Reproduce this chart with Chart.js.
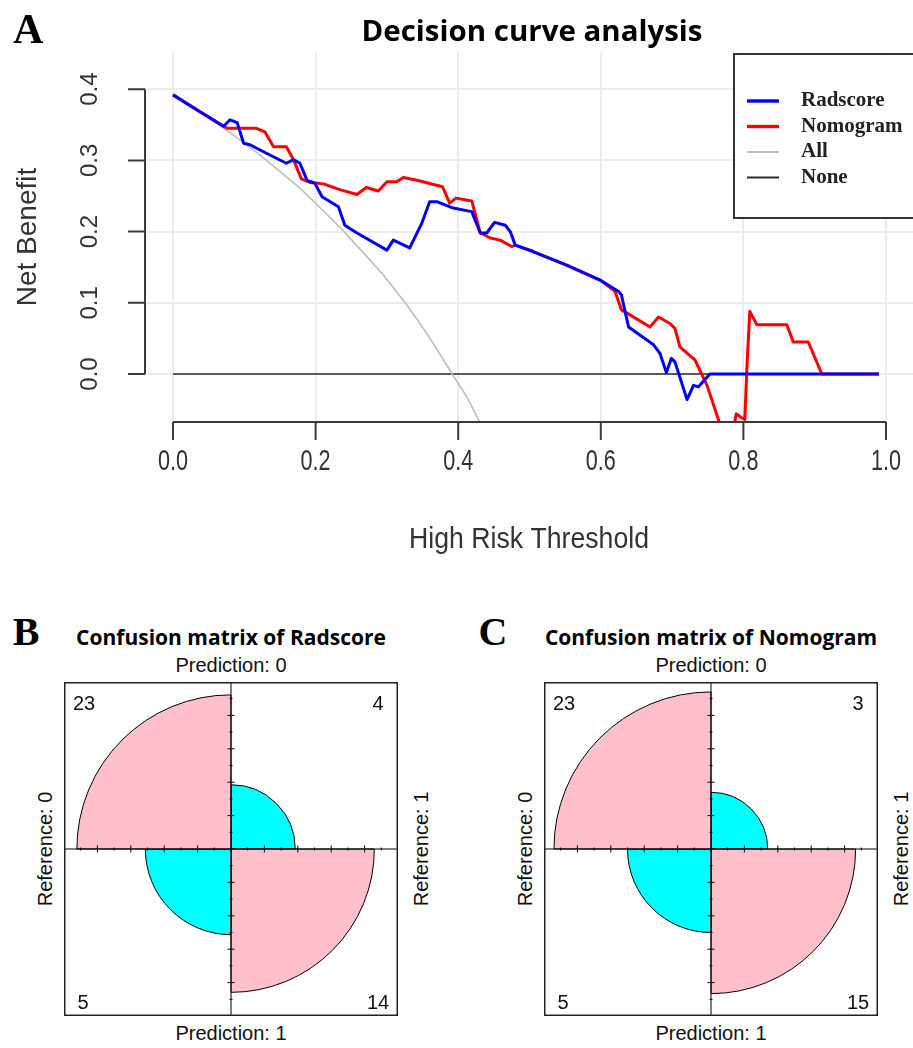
<!DOCTYPE html>
<html>
<head>
<meta charset="utf-8">
<title>Decision curve analysis and confusion matrices</title>
<script src="https://cdn.jsdelivr.net/npm/chart.js@4.4.1/dist/chart.umd.min.js"></script>
<style>
  html, body { margin: 0; padding: 0; background: #fff; }
  body { position: relative; width: 913px; height: 1048px; overflow: hidden; font-family: "Liberation Sans", Arial, sans-serif; color: #000; }
  #dcaChart { position: absolute; left: 0; top: 0; }
  .cm-canvas { position: absolute; top: 682px; }
  .txt { position: absolute; white-space: nowrap; line-height: 1; transform: translate(-50%, -50%); }
  .txt.rot { transform: translate(-50%, -50%) rotate(-90deg); }
  .panel { font-family: "Liberation Serif", "Times New Roman", serif; font-weight: bold; font-size: 40px; }
  .cm-title { font-family: "Open Sans", sans-serif; font-weight: bold; font-size: 21px; }
  .axis-lbl, .count { font-size: 20px; color: #111; }
</style>
</head>
<body>
<canvas id="dcaChart" width="913" height="580"></canvas>
<canvas id="cmRad" class="cm-canvas" width="334" height="334" style="left:64px"></canvas>
<canvas id="cmNomo" class="cm-canvas" width="334" height="334" style="left:544px"></canvas>
<div id="labels"></div>
<script>
// ---- decision curve data ----
const thresholdTicks = [0, 0.2, 0.4, 0.6, 0.8, 1.0];
const benefitTicks = [0, 0.1, 0.2, 0.3, 0.4];

const radscoreX = [0, 0.035, 0.071, 0.080, 0.090, 0.099, 0.108, 0.131, 0.159, 0.169, 0.178, 0.188, 0.199, 0.209,
  0.232, 0.241, 0.258, 0.300, 0.309, 0.332, 0.349, 0.360, 0.370, 0.393, 0.419, 0.431, 0.440, 0.451, 0.466,
  0.473, 0.480, 0.505, 0.552, 0.599, 0.625, 0.629, 0.634, 0.639, 0.674, 0.683, 0.692, 0.699, 0.704, 0.721,
  0.730, 0.737, 0.753, 0.990];
const radscoreY = [0.392, 0.370, 0.348, 0.357, 0.353, 0.324, 0.322, 0.310, 0.296, 0.301, 0.296, 0.272, 0.268, 0.249,
  0.235, 0.209, 0.198, 0.174, 0.188, 0.177, 0.212, 0.242, 0.242, 0.233, 0.228, 0.198, 0.198, 0.213, 0.209,
  0.200, 0.181, 0.172, 0.153, 0.132, 0.116, 0.111, 0.088, 0.066, 0.041, 0.029, 0.002, 0.022, 0.017, -0.036,
  -0.016, -0.018, 0.000, 0.000];

const nomogramX = [0, 0.035, 0.071, 0.076, 0.117, 0.129, 0.141, 0.159, 0.169, 0.180, 0.192, 0.211, 0.234, 0.258,
  0.271, 0.288, 0.300, 0.314, 0.323, 0.342, 0.378, 0.388, 0.397, 0.419, 0.431, 0.445, 0.459, 0.475, 0.480,
  0.505, 0.552, 0.599, 0.620, 0.629, 0.641, 0.669, 0.681, 0.697, 0.704, 0.711, 0.727, 0.732, 0.749, 0.766,
  0.772, 0.785, 0.788, 0.790, 0.797, 0.802, 0.805, 0.809, 0.819, 0.861, 0.870, 0.891, 0.910, 0.990];
const nomogramY = [0.392, 0.370, 0.348, 0.345, 0.345, 0.340, 0.319, 0.319, 0.301, 0.274, 0.269, 0.267, 0.259, 0.252,
  0.262, 0.257, 0.270, 0.270, 0.276, 0.272, 0.263, 0.240, 0.247, 0.243, 0.198, 0.191, 0.188, 0.179, 0.181,
  0.172, 0.153, 0.132, 0.116, 0.090, 0.083, 0.066, 0.080, 0.071, 0.064, 0.038, 0.024, 0.020, -0.016, -0.067,
  -0.090, -0.090, -0.067, -0.056, -0.061, -0.064, 0.010, 0.088, 0.069, 0.069, 0.045, 0.045, 0.000, 0.000];

const allX = [0, 0.040, 0.080, 0.120, 0.141, 0.178, 0.210, 0.239, 0.270, 0.295, 0.328, 0.356, 0.375, 0.391, 0.412, 0.429, 0.440];
const allY = [0.392, 0.366, 0.339, 0.309, 0.292, 0.261, 0.230, 0.201, 0.167, 0.139, 0.097, 0.057, 0.027, 0.001, -0.032, -0.065, -0.085];

const noneX = [0, 0.990];
const noneY = [0, 0];

// ---- confusion matrices: rows = Prediction 0/1, cols = Reference 0/1 ----
const predLabels = ['Prediction: 0', 'Prediction: 1'];
const refLabels = ['Reference: 0', 'Reference: 1'];
const radscoreMatrix = [[23, 4], [5, 14]];
const nomogramMatrix = [[23, 3], [5, 15]];
const cmTicks = [0.1, 0.2, 0.3, 0.4, 0.5, 0.6, 0.7, 0.8, 0.9];

const pts = (xs, ys) => xs.map((x, i) => ({ x: x, y: ys[i] }));

function drawText(ctx, text, x, y, font, o) {
    o = o || {};
    ctx.save();
    ctx.translate(x, y);
    if (o.rot) ctx.rotate(o.rot);
    ctx.font = font;
    if (o.width) {
        const w = ctx.measureText(text).width;
        ctx.scale(o.width / w, 1);
    } else if (o.sx) {
        ctx.scale(o.sx, 1);
    }
    ctx.textAlign = o.align || 'center';
    ctx.textBaseline = o.base || 'middle';
    ctx.fillStyle = o.color || '#000';
    ctx.fillText(text, 0, 0);
    ctx.restore();
}

// axes, labels and legend drawn R-style on top of the chart
const dcaDecor = {
    id: 'dcaDecor',
    afterDraw(chart) {
        const { ctx, chartArea: a } = chart;
        const xs = chart.scales.x, ys = chart.scales.y;
        ctx.save();
        ctx.strokeStyle = '#3a3a3a';
        ctx.lineWidth = 2;
        ctx.beginPath();
        ctx.moveTo(xs.getPixelForValue(thresholdTicks[0]), a.bottom);
        ctx.lineTo(xs.getPixelForValue(thresholdTicks[thresholdTicks.length - 1]), a.bottom);
        thresholdTicks.forEach(v => {
            const px = xs.getPixelForValue(v);
            ctx.moveTo(px, a.bottom);
            ctx.lineTo(px, a.bottom + 18);
        });
        ctx.moveTo(a.left, ys.getPixelForValue(benefitTicks[0]));
        ctx.lineTo(a.left, ys.getPixelForValue(benefitTicks[benefitTicks.length - 1]));
        benefitTicks.forEach(v => {
            const py = ys.getPixelForValue(v);
            ctx.moveTo(a.left, py);
            ctx.lineTo(a.left - 17, py);
        });
        ctx.stroke();
        ctx.restore();

        const tickFont = '24px "Liberation Sans", Arial, sans-serif';
        thresholdTicks.forEach(v => {
            drawText(ctx, v.toFixed(1), xs.getPixelForValue(v), a.bottom + 40, '30px "Liberation Sans", Arial, sans-serif', { sx: 0.72, color: '#333' });
        });
        benefitTicks.forEach(v => {
            drawText(ctx, v.toFixed(1), a.left - 55, ys.getPixelForValue(v), tickFont, { rot: -Math.PI / 2, color: '#333' });
        });
        drawText(ctx, 'High Risk Threshold', (a.left + a.right) / 2, 540, '30px "Liberation Sans", Arial, sans-serif', { width: 240, color: '#333' });
        drawText(ctx, 'Net Benefit', 28, (a.top + a.bottom) / 2, '28px "Liberation Sans", Arial, sans-serif', { rot: -Math.PI / 2, color: '#333' });

        drawText(ctx, 'Decision curve analysis', 532, 41, 'bold 28px "Open Sans", sans-serif', { width: 341, base: 'alphabetic' });
        drawText(ctx, 'A', 13, 43, 'bold 42px "Liberation Serif", serif', { align: 'left', base: 'alphabetic' });

        // legend box
        ctx.save();
        ctx.fillStyle = '#fff';
        ctx.fillRect(734, 54, 190, 164);
        ctx.strokeStyle = '#333';
        ctx.lineWidth = 2;
        ctx.strokeRect(734, 54, 190, 164);
        chart.data.datasets.forEach((ds, i) => {
            const yy = 101 + i * 25.5;
            ctx.beginPath();
            ctx.strokeStyle = ds.borderColor;
            ctx.lineWidth = ds.borderWidth + 0.4;
            ctx.moveTo(747, yy);
            ctx.lineTo(779, yy);
            ctx.stroke();
            drawText(ctx, ds.label, 801, yy, 'bold 21px "Liberation Serif", serif', { align: 'left', color: '#222' });
        });
        ctx.restore();
    }
};

new Chart(document.getElementById('dcaChart'), {
    type: 'line',
    data: {
        datasets: [
            { label: 'Radscore', data: pts(radscoreX, radscoreY), borderColor: '#0000ff', borderWidth: 3 },
            { label: 'Nomogram', data: pts(nomogramX, nomogramY), borderColor: '#ff0000', borderWidth: 3 },
            { label: 'All', data: pts(allX, allY), borderColor: '#bdbdbd', borderWidth: 1.6 },
            { label: 'None', data: pts(noneX, noneY), borderColor: '#2a2a2a', borderWidth: 1.6 }
        ]
    },
    options: {
        responsive: false,
        animation: false,
        elements: { point: { radius: 0 }, line: { tension: 0, borderJoinStyle: 'round' } },
        layout: { padding: { left: 145, top: 52, right: 0, bottom: 158 } },
        plugins: { legend: { display: false }, tooltip: { enabled: false } },
        scales: {
            x: {
                type: 'linear', min: -0.0393, max: 1.0379,
                afterBuildTicks: s => { s.ticks = thresholdTicks.map(v => ({ value: v })); },
                ticks: { display: false },
                grid: { color: '#ececec', lineWidth: 2, drawTicks: false },
                border: { display: false }
            },
            y: {
                type: 'linear', min: -0.0674, max: 0.4522,
                afterBuildTicks: s => { s.ticks = benefitTicks.map(v => ({ value: v })); },
                ticks: { display: false },
                grid: { color: '#ececec', lineWidth: 2, drawTicks: false },
                border: { display: false }
            }
        }
    },
    plugins: [dcaDecor]
});

// ---- fourfold plots ----
const fourfoldFrame = {
    id: 'fourfoldFrame',
    afterDatasetsDraw(chart) {
        const { ctx, chartArea: a } = chart;
        const r = chart.scales.r;
        const cx = r.xCenter, cy = r.yCenter;
        ctx.save();
        ctx.strokeStyle = '#000';
        ctx.lineWidth = 1;
        ctx.beginPath();
        ctx.moveTo(cx, a.top); ctx.lineTo(cx, a.bottom);
        ctx.moveTo(a.left, cy); ctx.lineTo(a.right, cy);
        cmTicks.forEach((v, k) => {
            const d = r.getDistanceFromCenterForValue(v);
            const h = k % 2 === 1 ? 3.5 : 1.5;
            [-1, 1].forEach(s => {
                ctx.moveTo(cx + s * d, cy - h); ctx.lineTo(cx + s * d, cy + h);
                ctx.moveTo(cx - h, cy + s * d); ctx.lineTo(cx + h, cy + s * d);
            });
        });
        ctx.stroke();
        ctx.lineWidth = 1.5;
        ctx.strokeStyle = '#222';
        ctx.strokeRect(a.left + 0.75, a.top + 0.75, a.right - a.left - 1.5, a.bottom - a.top - 1.5);
        ctx.restore();
    }
};

const panels = [
    { id: 'cmRad', letter: 'B', title: 'Confusion matrix of Radscore', matrix: radscoreMatrix, cx: 231, letterX: 26 },
    { id: 'cmNomo', letter: 'C', title: 'Confusion matrix of Nomogram', matrix: nomogramMatrix, cx: 711, letterX: 493 }
];

const labelBox = document.getElementById('labels');
function addText(text, x, y, cls) {
    const d = document.createElement('div');
    d.className = 'txt ' + cls;
    d.textContent = text;
    d.style.left = x + 'px';
    d.style.top = y + 'px';
    labelBox.appendChild(d);
}

panels.forEach(p => {
    const m = p.matrix;
    const rowSum = m.map(r => r[0] + r[1]);
    // quadrants clockwise from 12 o'clock: top-right, bottom-right, bottom-left, top-left
    const cells = [[0, 1], [1, 1], [1, 0], [0, 0]];
    new Chart(document.getElementById(p.id), {
        type: 'polarArea',
        data: {
            labels: cells.map(([i, j]) => predLabels[i] + ' / ' + refLabels[j]),
            datasets: [{
                // fourfold display: rows standardised, area proportional to count
                data: cells.map(([i, j]) => Math.sqrt(m[i][j] / rowSum[i])),
                backgroundColor: cells.map(([i, j]) => i === j ? '#ffc0cb' : '#00ffff'),
                borderColor: '#000',
                borderWidth: 1
            }]
        },
        options: {
            responsive: false,
            animation: false,
            layout: { padding: 0 },
            plugins: { legend: { display: false }, tooltip: { enabled: false } },
            scales: {
                r: {
                    min: 0, max: 1,
                    ticks: { display: false },
                    grid: { display: false },
                    angleLines: { display: false },
                    pointLabels: { display: false }
                }
            }
        },
        plugins: [fourfoldFrame]
    });

    const cx = p.cx, cy = 849;
    addText(p.letter, p.letterX, 632, 'panel');
    addText(p.title, cx, 637, 'cm-title');
    addText(predLabels[0], cx, 665, 'axis-lbl');
    addText(predLabels[1], cx, 1033, 'axis-lbl');
    addText(refLabels[0], cx - 186, cy, 'axis-lbl rot');
    addText(refLabels[1], cx + 190, cy, 'axis-lbl rot');
    addText(String(m[0][0]), cx - 147, 703, 'count');
    addText(String(m[0][1]), cx + 147, 703, 'count');
    addText(String(m[1][0]), cx - 148, 1002, 'count');
    addText(String(m[1][1]), cx + 147, 1002, 'count');
});
</script>
</body>
</html>
